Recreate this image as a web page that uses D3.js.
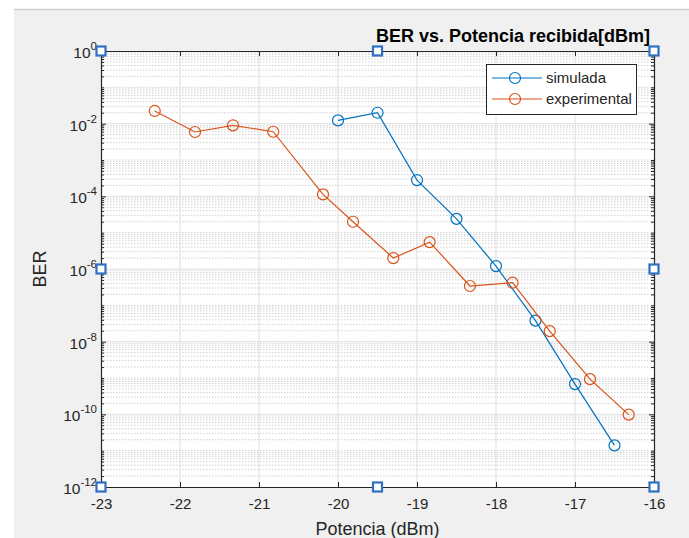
<!DOCTYPE html>
<html>
<head>
<meta charset="utf-8">
<script src="https://cdn.jsdelivr.net/npm/d3@7"></script>
<style>
  body { margin: 0; background: #ffffff; }
  text { font-family: Arial, "Liberation Sans", Helvetica, sans-serif; }
</style>
</head>
<body>
<div id="chart"></div>
<script>
// datos
let simPotencia = [-20, -19.5, -19, -18.5, -18, -17.5, -17, -16.5];
let simBER = [1.23e-2, 2.0e-2, 2.8e-4, 2.4e-5, 1.2e-6, 3.8e-8, 6.8e-10, 1.4e-11];
let expPotencia = [-22.32, -21.81, -21.33, -20.82, -20.19, -19.81, -19.30, -18.84, -18.33, -17.79, -17.32, -16.81, -16.32];
let expBER = [2.24e-2, 5.9e-3, 9.0e-3, 6.0e-3, 1.13e-4, 2.0e-5, 2.0e-6, 5.5e-6, 3.4e-7, 4.2e-7, 1.95e-8, 9.3e-10, 9.8e-11];
let xTicks = [-23, -22, -21, -20, -19, -18, -17, -16];
let yExps = [0, -2, -4, -6, -8, -10, -12];
let seriesNames = ["simulada", "experimental"];
let seriesColors = ["#0072BD", "#D95319"];

let W = 689, H = 538;
let axLeft = 101, axRight = 654, axTop = 51, axBottom = 487;

let svg = d3.select("#chart").append("svg")
  .attr("width", W).attr("height", H);

// fondo de la figura
svg.append("rect").attr("width", W).attr("height", H).attr("fill", "#ffffff");
svg.append("rect").attr("x", 14).attr("y", 10).attr("width", W - 14).attr("height", H - 10).attr("fill", "#f0f0f0");
svg.append("line").attr("x1", 14).attr("x2", W).attr("y1", 9.5).attr("y2", 9.5)
  .attr("stroke", "#cfcfcf").attr("stroke-width", 1.5);

let x = d3.scaleLinear().domain([-23, -16]).range([axLeft, axRight]);
let y = d3.scaleLog().domain([1e-12, 1]).range([axBottom, axTop]);

svg.append("rect").attr("x", axLeft).attr("y", axTop)
  .attr("width", axRight - axLeft).attr("height", axBottom - axTop).attr("fill", "#ffffff");

// rejilla menor (solo horizontal, punteada)
let minorVals = [];
for (let k = -12; k < 0; k++) {
  for (let m = 1; m <= 9; m++) {
    let v = m * Math.pow(10, k);
    if (m == 1 && k % 2 == 0) continue;
    minorVals.push(v);
  }
}
let grid = svg.append("g");
grid.selectAll(".minor").data(minorVals).enter().append("line")
  .attr("x1", axLeft).attr("x2", axRight)
  .attr("y1", d => y(d)).attr("y2", d => y(d))
  .attr("stroke", "#d2d2d2").attr("stroke-width", 1)
  .attr("stroke-dasharray", "1.5,1.5");
// rejilla mayor
grid.selectAll(".majy").data(yExps.slice(1, -1)).enter().append("line")
  .attr("x1", axLeft).attr("x2", axRight)
  .attr("y1", d => y(Math.pow(10, d))).attr("y2", d => y(Math.pow(10, d)))
  .attr("stroke", "#dfdfdf").attr("stroke-width", 1);
grid.selectAll(".majx").data(xTicks.slice(1, -1)).enter().append("line")
  .attr("x1", d => x(d)).attr("x2", d => x(d))
  .attr("y1", axTop).attr("y2", axBottom)
  .attr("stroke", "#dfdfdf").attr("stroke-width", 1);

// ejes
let axisColor = "#262626";
let xAxis = svg.append("g").attr("transform", "translate(0," + axBottom + ")")
  .call(d3.axisBottom(x).tickValues(xTicks).tickSize(-5).tickPadding(11).tickFormat(d => String(d)));
let xAxisTop = svg.append("g").attr("transform", "translate(0," + axTop + ")")
  .call(d3.axisTop(x).tickValues(xTicks).tickSize(-5).tickFormat(""));
let yMajor = yExps.map(e => Math.pow(10, e));
let yAxis = svg.append("g").attr("transform", "translate(" + axLeft + ",0)")
  .call(d3.axisLeft(y).tickValues(yMajor).tickSize(-5).tickFormat(""));
let yAxisR = svg.append("g").attr("transform", "translate(" + axRight + ",0)")
  .call(d3.axisRight(y).tickValues(yMajor).tickSize(-5).tickFormat(""));
let yMinorL = svg.append("g").attr("transform", "translate(" + axLeft + ",0)")
  .call(d3.axisLeft(y).tickValues(minorVals).tickSize(-3).tickFormat(""));
let yMinorR = svg.append("g").attr("transform", "translate(" + axRight + ",0)")
  .call(d3.axisRight(y).tickValues(minorVals).tickSize(-3).tickFormat(""));

[xAxis, xAxisTop, yAxis, yAxisR, yMinorL, yMinorR].forEach(function(a) {
  a.select(".domain").attr("stroke", axisColor).attr("stroke-width", 1.2);
  a.selectAll(".tick line").attr("stroke", axisColor);
});
yMinorL.select(".domain").remove();
yMinorR.select(".domain").remove();
xAxis.selectAll(".tick text")
  .attr("fill", axisColor).attr("font-size", 15)
  .attr("font-family", "Arial, 'Liberation Sans', sans-serif");

// etiquetas del eje y con exponente
let yl = svg.append("g");
yExps.forEach(function(e) {
  let t = yl.append("text")
    .attr("x", axLeft - 4).attr("y", y(Math.pow(10, e)) + 7)
    .attr("text-anchor", "end").attr("fill", axisColor).attr("font-size", 15.5);
  t.append("tspan").text("10");
  t.append("tspan").attr("dy", -8).attr("font-size", 11.5).text(String(e));
});

// series
let series = [
  { name: seriesNames[0], xs: simPotencia, ys: simBER, color: seriesColors[0] },
  { name: seriesNames[1], xs: expPotencia, ys: expBER, color: seriesColors[1] }
];
let line = d3.line().x(d => x(d[0])).y(d => y(d[1]));
series.forEach(function(s) {
  let pts = s.xs.map((v, i) => [v, s.ys[i]]);
  svg.append("path").datum(pts).attr("d", line)
    .attr("fill", "none").attr("stroke", s.color).attr("stroke-width", 1.2);
  svg.selectAll(null).data(pts).enter().append("circle")
    .attr("cx", d => x(d[0])).attr("cy", d => y(d[1])).attr("r", 5.5)
    .attr("fill", "none").attr("stroke", s.color).attr("stroke-width", 1.2);
});

// leyenda
let lg = svg.append("g");
lg.append("rect").attr("x", 486.5).attr("y", 64.5).attr("width", 150).attr("height", 50)
  .attr("fill", "#ffffff").attr("stroke", "#262626").attr("stroke-width", 1);
series.forEach(function(s, i) {
  let ly = 78 + i * 21;
  lg.append("line").attr("x1", 492).attr("x2", 542).attr("y1", ly).attr("y2", ly)
    .attr("stroke", s.color).attr("stroke-width", 1.2);
  lg.append("circle").attr("cx", 515).attr("cy", ly).attr("r", 5.5)
    .attr("fill", "none").attr("stroke", s.color).attr("stroke-width", 1.2);
  lg.append("text").attr("x", 546).attr("y", ly + 5).attr("font-size", 15)
    .attr("fill", axisColor).text(s.name);
});

// titulo y etiquetas
svg.append("text").attr("x", 650).attr("y", 42).attr("text-anchor", "end")
  .attr("font-size", 18).attr("font-weight", "bold").attr("fill", "#000000")
  .text("BER vs. Potencia recibida[dBm]");
svg.append("text").attr("x", (axLeft + axRight) / 2).attr("y", 535).attr("text-anchor", "middle")
  .attr("font-size", 18).attr("fill", axisColor).text("Potencia (dBm)");
svg.append("text").attr("transform", "translate(46," + ((axTop + axBottom) / 2) + ") rotate(-90)")
  .attr("text-anchor", "middle").attr("font-size", 18).attr("fill", axisColor).text("BER");

// cuadros de seleccion (modo edicion)
let handles = [[-23, 1], [-19.5, 1], [-16, 1], [-23, 1e-6], [-16, 1e-6], [-23, 1e-12], [-19.5, 1e-12], [-16, 1e-12]];
svg.selectAll(".handle").data(handles).enter().append("rect")
  .attr("x", d => x(d[0]) - 4.5).attr("y", d => y(d[1]) - 4.5)
  .attr("width", 9).attr("height", 9)
  .attr("fill", "#ffffff").attr("stroke", "#2f6fc0").attr("stroke-width", 2.2);
</script>
</body>
</html>
